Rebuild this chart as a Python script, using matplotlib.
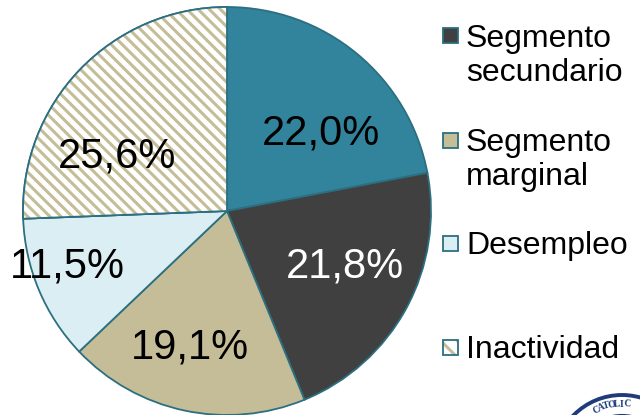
import numpy as np
import matplotlib
matplotlib.use("Agg")
import matplotlib.pyplot as plt
from matplotlib.patches import Wedge, Rectangle, Circle

plt.rcParams['font.family'] = ['Liberation Sans', 'DejaVu Sans']

# Distribution of the population (percent), clockwise from 12 o'clock
shares = [22.0, 21.8, 19.1, 11.5, 25.6]
slice_colors = ['#31849B', '#404040', '#C4BD97', '#DAEEF3', '#FFFFFF']
label_colors = ['black', 'white', 'black', 'black', 'black']
# label placement: distance from centre and angular shift from the slice middle
label_radius = [0.61, 0.63, 0.67, 0.82, 0.61]
label_shift = [-9.4, 5.0, -3.7, -5.2, 15.7]

legend_labels = [['Segmento', 'secundario'], ['Segmento', 'marginal'],
                 ['Desempleo'], ['Inactividad']]
legend_colors = ['#404040', '#C4BD97', '#DAEEF3', 'hatch']
legend_baselines = [47, 151, 254, 358]

EDGE = '#2C6F80'
TAN = '#C4BD97'

W, H = 640, 415
fig = plt.figure(figsize=(W / 100, H / 100), dpi=100)

# Pie axes: radius 1 in data units equals 204 px, centre at (227, 211) px
R = 204.0
cx, cy = 227.0, 211.0
ax = fig.add_axes([0, 0, 1, 1])

plt.rcParams['hatch.linewidth'] = 2.2
wedges, texts, autotexts = ax.pie(
    shares, colors=slice_colors, startangle=90, counterclock=False,
    autopct=lambda p: f'{p:.1f}%'.replace('.', ','), pctdistance=0.62,
    wedgeprops=dict(edgecolor=EDGE, linewidth=1.3),
    textprops=dict(fontsize=30))

ax.set_xlim(-cx / R, (W - cx) / R)
ax.set_ylim(-(H - cy) / R, cy / R)
ax.set_aspect('equal', adjustable='datalim')
ax.set_position([0, 0, 1, 1])
ax.axis('off')

for t, c in zip(autotexts, label_colors):
    t.set_color(c)

for w, t, r, s in zip(wedges, autotexts, label_radius, label_shift):
    mid = np.deg2rad((w.theta1 + w.theta2) / 2 + s)
    t.set_position((r * np.cos(mid), r * np.sin(mid)))
    t.set_verticalalignment('center_baseline')

# Striped "Inactividad" slice: tan hatch on white, teal outline on top
hw = wedges[4]
ax.add_patch(Wedge((0, 0), 1, hw.theta1, hw.theta2, facecolor='white',
                   edgecolor=TAN, hatch='\\\\\\', linewidth=0, zorder=1.5))
ax.add_patch(Wedge((0, 0), 1, hw.theta1, hw.theta2, facecolor='none',
                   edgecolor=EDGE, linewidth=1.3, zorder=1.6))
for t in autotexts:
    t.set_zorder(3)

# Overlay in pixel coordinates for the legend and logo
ov = fig.add_axes([0, 0, 1, 1])
ov.set_xlim(0, W)
ov.set_ylim(H, 0)
ov.axis('off')
ov.patch.set_alpha(0)

sq = 15
for lines, col, base in zip(legend_labels, legend_colors, legend_baselines):
    top = base - 11 - sq / 2
    if col == 'hatch':
        ov.add_patch(Rectangle((443, top), sq, sq, facecolor='white',
                               edgecolor=TAN, hatch='\\\\', linewidth=0))
        ov.add_patch(Rectangle((443, top), sq, sq, facecolor='none',
                               edgecolor=EDGE, linewidth=1.3))
    else:
        ov.add_patch(Rectangle((443, top), sq, sq, facecolor=col,
                               edgecolor=EDGE, linewidth=1.3))
    for i, line in enumerate(lines):
        ov.text(466, base + i * 34, line, fontsize=23, va='baseline',
                ha='left', color='black')

# University seal in the corner
navy = '#1F3B7A'
lc, lr = (622, 463), 68
ov.add_patch(Circle(lc, lr, facecolor='white', edgecolor=navy, linewidth=2.8))
ov.add_patch(Circle(lc, lr - 20, facecolor='none', edgecolor=navy, linewidth=1.5))
word = 'CATOLIC'
for k, ch in enumerate(word):
    ang = np.deg2rad(116 - k * 5.2)
    x = lc[0] + (lr - 9) * np.cos(ang)
    y = lc[1] - (lr - 9) * np.sin(ang)
    ov.text(x, y, ch, fontsize=7, fontweight='bold', family='Liberation Serif',
            color=navy, ha='center', va='center',
            rotation=np.rad2deg(ang) - 90)

fig.savefig('out.png', dpi=100)
